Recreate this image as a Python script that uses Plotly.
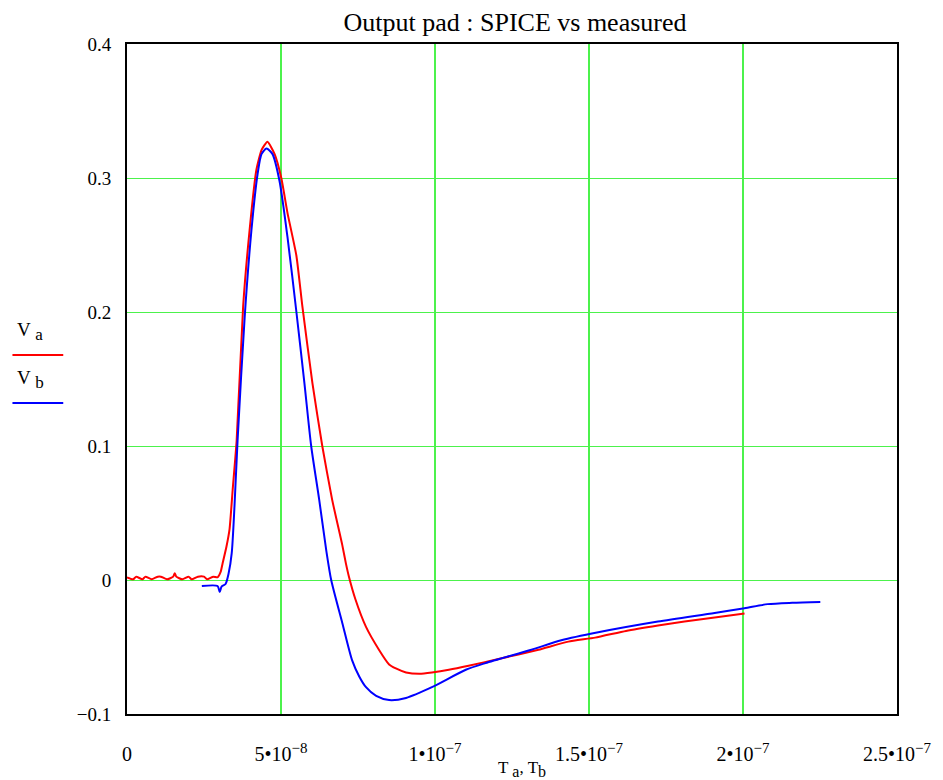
import plotly.graph_objects as go

# ---- data (time in seconds, voltage in volts) ----
t_a = [0, 2e-9, 3e-9, 5e-9, 6e-9, 8e-9, 10e-9, 11e-9, 13e-9, 15e-9, 15.5e-9, 16e-9, 18e-9, 20e-9,
       21e-9, 23e-9, 25e-9, 26e-9, 28e-9, 29.4e-9, 30.4e-9, 31.0e-9, 32.3e-9, 33.3e-9, 34.3e-9,
       35.6e-9, 37.7e-9, 39.8e-9, 42.0e-9, 43.7e-9, 45.6e-9, 47.9e-9, 50.1e-9, 52.1e-9, 55.0e-9,
       56.9e-9, 60.2e-9, 63.4e-9, 66.6e-9, 69.9e-9, 71.1e-9, 72.1e-9, 74.1e-9, 77.6e-9, 81.8e-9,
       85.1e-9, 87.3e-9, 90.6e-9, 95e-9, 99.0e-9, 104.5e-9, 110.9e-9, 120.6e-9, 133.6e-9,
       143.3e-9, 152.0e-9, 162e-9, 172.4e-9, 181e-9, 190.8e-9, 200.5e-9]
v_a = [0.002, 0.0005, 0.0025, 0.0005, 0.0025, 0.0005, 0.0025, 0.0025, 0.0005, 0.0025, 0.005, 0.0025,
       0.0005, 0.0025, 0.0005, 0.0025, 0.0025, 0.0005, 0.0025, 0.002, 0.006, 0.012, 0.025, 0.038,
       0.067, 0.104, 0.204, 0.261, 0.306, 0.321, 0.327, 0.318, 0.300, 0.274, 0.242,
       0.205, 0.147, 0.100, 0.060, 0.026, 0.012, 0.002, -0.014, -0.035, -0.052,
       -0.063, -0.066, -0.069, -0.070, -0.069, -0.067, -0.064, -0.059, -0.052,
       -0.046, -0.043, -0.038, -0.034, -0.031, -0.028, -0.025]

t_b = [24.3e-9, 29.4e-9, 30.1e-9, 30.7e-9, 32.0e-9, 33.0e-9, 34.0e-9, 34.9e-9, 35.9e-9, 38.2e-9,
       40.4e-9, 42.4e-9, 43.7e-9, 45.3e-9, 47.2e-9, 49.5e-9, 52.1e-9, 55.0e-9, 57.6e-9, 59.8e-9,
       62.4e-9, 64.7e-9, 66.3e-9, 69.9e-9, 73.1e-9, 75.4e-9, 77.6e-9, 80.9e-9, 85.1e-9, 90.6e-9,
       99.0e-9, 110.0e-9, 116.4e-9, 131.3e-9, 141.0e-9, 153.0e-9, 172.4e-9,
       190.8e-9, 200.5e-9, 208.0e-9, 216e-9, 225.1e-9]
v_b = [-0.0045, -0.0045, -0.009, -0.005, -0.003, 0.005, 0.020, 0.055, 0.104, 0.196,
       0.261, 0.303, 0.318, 0.322, 0.318, 0.298, 0.256, 0.200, 0.147, 0.100,
       0.060, 0.022, 0.0, -0.032, -0.060, -0.072, -0.080, -0.0865, -0.0896, -0.088,
       -0.080, -0.067, -0.062, -0.052, -0.045, -0.039, -0.031,
       -0.0246, -0.021, -0.018, -0.017, -0.0164]

x_ticks = [0, 5e-8, 1e-7, 1.5e-7, 2e-7, 2.5e-7]
x_tick_bases = ["0", "5•10", "1•10", "1.5•10", "2•10", "2.5•10"]
x_tick_exps = ["", "−8", "−7", "−7", "−7", "−7"]
y_ticks = [-0.1, 0, 0.1, 0.2, 0.3, 0.4]
y_tick_labels = ["−0.1", "0", "0.1", "0.2", "0.3", "0.4"]

FONT = "Liberation Serif, Times New Roman, serif"
EXP = "<sup><span style='font-size:15px'>{}</span></sup>"
x_tick_labels = [b + (EXP.format(e) if e else "") for b, e in zip(x_tick_bases, x_tick_exps)]

fig = go.Figure()
fig.add_trace(go.Scatter(x=t_a, y=v_a, mode="lines", line=dict(color="#ff0000", width=2),
                         line_shape="spline", line_smoothing=0.5, name="Va"))
fig.add_trace(go.Scatter(x=t_b, y=v_b, mode="lines", line=dict(color="#0000ff", width=2),
                         line_shape="spline", line_smoothing=0.7, name="Vb"))

fig.update_layout(
    width=943, height=780,
    margin=dict(l=127, r=43, t=44, b=66),
    paper_bgcolor="white", plot_bgcolor="white",
    showlegend=False,
    font=dict(family=FONT, size=19, color="black"),
    title=dict(text="Output pad : SPICE vs measured", x=515 / 943, xanchor="center",
               y=1 - 22 / 780, yanchor="middle", font=dict(family=FONT, size=26)),
)
fig.update_xaxes(range=[0, 2.5e-7], tickvals=x_ticks, ticktext=x_tick_labels,
                 showgrid=True, gridcolor="#4cf24c", gridwidth=1.5, zeroline=False,
                 showline=True, linecolor="black", linewidth=2, mirror=True,
                 ticks="", ticklabelstandoff=21, tickfont=dict(family=FONT, size=20))
fig.update_yaxes(range=[-0.1, 0.4], tickvals=y_ticks, ticktext=y_tick_labels,
                 showgrid=True, gridcolor="#4cf24c", gridwidth=1, zeroline=False,
                 showline=True, linecolor="black", linewidth=2, mirror=True,
                 ticks="", ticklabelstandoff=10, tickfont=dict(family=FONT, size=19))


def px_x(px):
    return (px - 127) / 773


def px_y(py):
    return (714 - py) / 670


def txt(s, x, y, size=19):
    fig.add_annotation(text=s, xref="paper", yref="paper", x=px_x(x), y=px_y(y),
                       showarrow=False, xanchor="center", yanchor="middle",
                       font=dict(family=FONT, size=size))


SUB = "<sub><span style='font-size:{}px'>{}</span></sub>"

# legend-like labels on the left (Mathcad style)
txt("V " + SUB.format(17, "a"), 30, 331)
txt("V " + SUB.format(17, "b"), 30, 379)
fig.add_shape(type="line", xref="paper", yref="paper", x0=px_x(12), x1=px_x(63),
              y0=px_y(355), y1=px_y(355), line=dict(color="#ff0000", width=2))
fig.add_shape(type="line", xref="paper", yref="paper", x0=px_x(12), x1=px_x(63),
              y0=px_y(403), y1=px_y(403), line=dict(color="#0000ff", width=2))

# x axis title: T a, T b
txt("T " + SUB.format(16, "a") + ", T" + SUB.format(16, "b"), 524, 769, 17)

fig.write_html("out.html")
